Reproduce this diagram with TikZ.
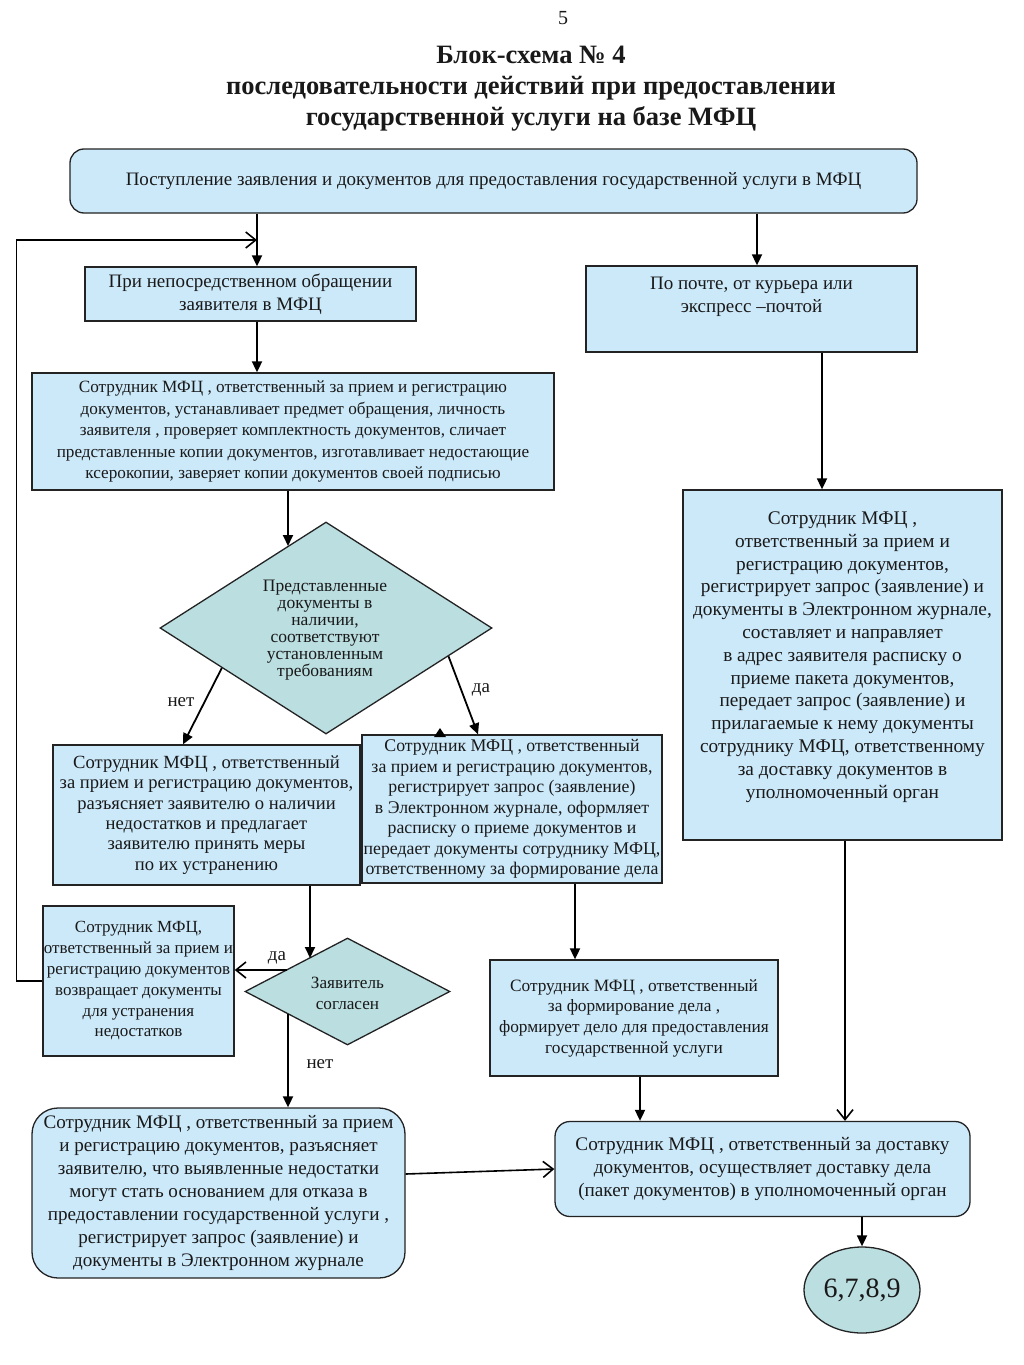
\documentclass[tikz,border=0pt]{standalone}
\usepackage{fontspec}
\setmainfont{Liberation Serif}
\usetikzlibrary{shapes.geometric,arrows.meta}
\definecolor{boxblue}{RGB}{204,233,250}
\definecolor{diateal}{RGB}{187,222,224}
\definecolor{edge}{RGB}{35,35,35}
\newcommand\myfs[2]{\fontsize{#1}{#2}\selectfont}
\tikzset{
  box/.style={draw=edge, line width=1.3pt, fill=boxblue, inner sep=1pt, align=center, text=black!90},
  dia/.style={diamond, draw=edge, line width=1.3pt, fill=diateal, inner sep=0pt, align=center, text=black!90},
  arr/.style={line width=1.8pt, -{Triangle[length=11pt,width=10pt]}},
  oarr/.style={line width=1.6pt, -{Straight Barb[length=10pt,width=16pt]}},
  lbl/.style={inner sep=0pt, text=black!90, font=\myfs{19}{22}},
  txt/.style={inner sep=0pt, align=center, text=black!90}
}
\begin{document}
\begin{tikzpicture}[x=1pt,y=-1pt]
\useasboundingbox (0,0) rectangle (1024,1365);
% title
\node[txt, font=\myfs{20}{24}] (pnum) at (563,18) {5};
\node[txt, font=\myfs{26.5}{31}\bfseries] (title) at (531,89) {Блок-схема № 4\\последовательности действий при предоставлении\\государственной услуги  на базе МФЦ};
% boxes
\node[box, rounded corners=14pt, minimum width=847pt, minimum height=64pt, font=\myfs{19}{22}] (top) at (493.5,181) {Поступление заявления и документов для предоставления  государственной услуги  в МФЦ};
\node[box, minimum width=331pt, minimum height=54pt, font=\myfs{19}{23}] (A) at (250.5,294) {При непосредственном обращении\\заявителя в МФЦ};
\node[box, minimum width=331pt, minimum height=86pt] (B) at (751.5,309) {};
\node[txt, font=\myfs{19}{23}] (Btxt) at (751.5,297) {По почте,  от курьера или\\экспресс –почтой};
\node[box, minimum width=522pt, minimum height=117pt, font=\myfs{17.2}{21.5}] (C) at (293,431.5) {Сотрудник МФЦ , ответственный  за прием и регистрацию\\документов, устанавливает предмет  обращения,  личность\\заявителя , проверяет  комплектность документов,  сличает\\представленные  копии документов, изготавливает  недостающие\\ксерокопии, заверяет копии документов своей подписью};
\node[dia, minimum width=332pt, minimum height=212pt] (d1) at (326,628) {};
\node[txt, font=\myfs{17.5}{17}] (d1txt) at (325,630) {Представленные\\документы в\\наличии,\\соответствуют\\установленным\\требованиям};
\node[box, minimum width=307pt, minimum height=140pt, font=\myfs{18.6}{20.4}] (D) at (206.5,815) {Сотрудник МФЦ , ответственный\\за прием и  регистрацию документов,\\разъясняет  заявителю о наличии\\недостатков  и предлагает\\заявителю принять меры\\по их устранению};
\node[box, minimum width=300pt, minimum height=148pt, font=\myfs{17.8}{20.5}] (E) at (512,809) {Сотрудник МФЦ , ответственный\\за прием и  регистрацию документов,\\регистрирует  запрос (заявление)\\в Электронном журнале, оформляет\\расписку  о приеме документов и\\передает документы сотруднику МФЦ,\\ответственному за формирование дела};
\node[dia, minimum width=205pt, minimum height=107pt] (d2) at (347.5,991.5) {};
\node[txt, font=\myfs{17.2}{21}] (d2txt) at (347.5,993) {Заявитель\\согласен};
\node[box, minimum width=191pt, minimum height=150pt, font=\myfs{17}{20.8}] (F) at (138.5,981) {Сотрудник МФЦ,\\ответственный за прием и\\регистрацию документов\\возвращает  документы\\для устранения\\недостатков};
\node[box, rounded corners=26pt, minimum width=373pt, minimum height=170pt, font=\myfs{19.1}{23}] (G) at (218.5,1193) {Сотрудник МФЦ , ответственный за прием\\и регистрацию документов, разъясняет\\заявителю, что выявленные недостатки\\могут стать  основанием для отказа в\\предоставлении  государственной услуги ,\\регистрирует запрос (заявление) и\\документы  в Электронном журнале};
\node[box, rounded corners=15pt, minimum width=415pt, minimum height=95pt, font=\myfs{19.2}{23}] (H) at (762.5,1169) {Сотрудник МФЦ , ответственный  за доставку\\документов,  осуществляет  доставку  дела\\(пакет документов) в уполномоченный орган};
\node[box, minimum width=288pt, minimum height=116pt, font=\myfs{17.3}{20.7}] (I) at (634,1018) {Сотрудник МФЦ , ответственный\\за  формирование дела ,\\формирует дело для  предоставления\\государственной услуги};
\node[box, minimum width=319pt, minimum height=350pt] (J) at (842.5,665) {};
\node[txt, font=\myfs{19.3}{22.8}] (Jtxt) at (842.5,657) {Сотрудник МФЦ ,\\ответственный за прием и\\регистрацию  документов,\\регистрирует  запрос (заявление) и\\документы  в Электронном журнале,\\составляет и направляет\\в адрес заявителя расписку о\\приеме пакета документов,\\передает запрос (заявление) и\\прилагаемые к нему документы\\сотруднику  МФЦ, ответственному\\за доставку документов в\\уполномоченный орган};
\node[ellipse, draw=edge, line width=1.3pt, fill=diateal, minimum width=116pt, minimum height=86pt, inner sep=0pt, font=\myfs{28}{30}, text=black!90] (ell) at (862,1290) {6,7,8,9};
% helper coordinates
\coordinate (j1) at (257,240);
\coordinate (j2) at (757,240);
\coordinate (c1) at (288,546);
\coordinate (c2) at (310,958);
\coordinate (c3) at (287,970);
\coordinate (c4) at (288,1014);
\coordinate (x575) at (575,900);
\coordinate (x640) at (640,1100);
\coordinate (x822) at (822,400);
\coordinate (x845) at (845,1000);
% connectors
\draw[arr] (top.south -| j1) -- (A.north -| j1);
\draw[oarr] (F.west) -- ++(-26,0) |- (j1);
\draw[arr] (top.south -| j2) -- (B.north -| j2);
\draw[arr] (A.south -| j1) -- (C.north -| j1);
\draw[arr] (C.south -| c1) -- (c1);
\draw[arr] (d1.201) -- ([xshift=-23.5pt]D.north);
\draw[arr] (d1.347) -- ([xshift=-34pt]E.north);
\fill[black] (434,737) -- (446,737) -- (440,728) -- cycle;
\draw[arr] (D.south -| c2) -- (c2);
\draw[oarr] (c3) -- (F.east |- c3);
\draw[arr] (c4) -- (G.north -| c4);
\draw[arr] (E.south -| x575) -- (I.north -| x575);
\draw[arr] (I.south -| x640) -- (H.north -| x640);
\draw[arr] (B.south -| x822) -- (J.north -| x822);
\draw[oarr] (J.south -| x845) -- (H.north -| x845);
\draw[oarr] ([yshift=19pt]G.east) -- (H.west);
\draw[arr] (H.south -| ell.north) -- (ell.north);
% labels
\node[lbl] (l1) at (181,702) {нет};
\node[lbl] (l2) at (481,690) {да};
\node[lbl] (l3) at (277,958) {да};
\node[lbl] (l4) at (320,1064) {нет};
\end{tikzpicture}
\end{document}
